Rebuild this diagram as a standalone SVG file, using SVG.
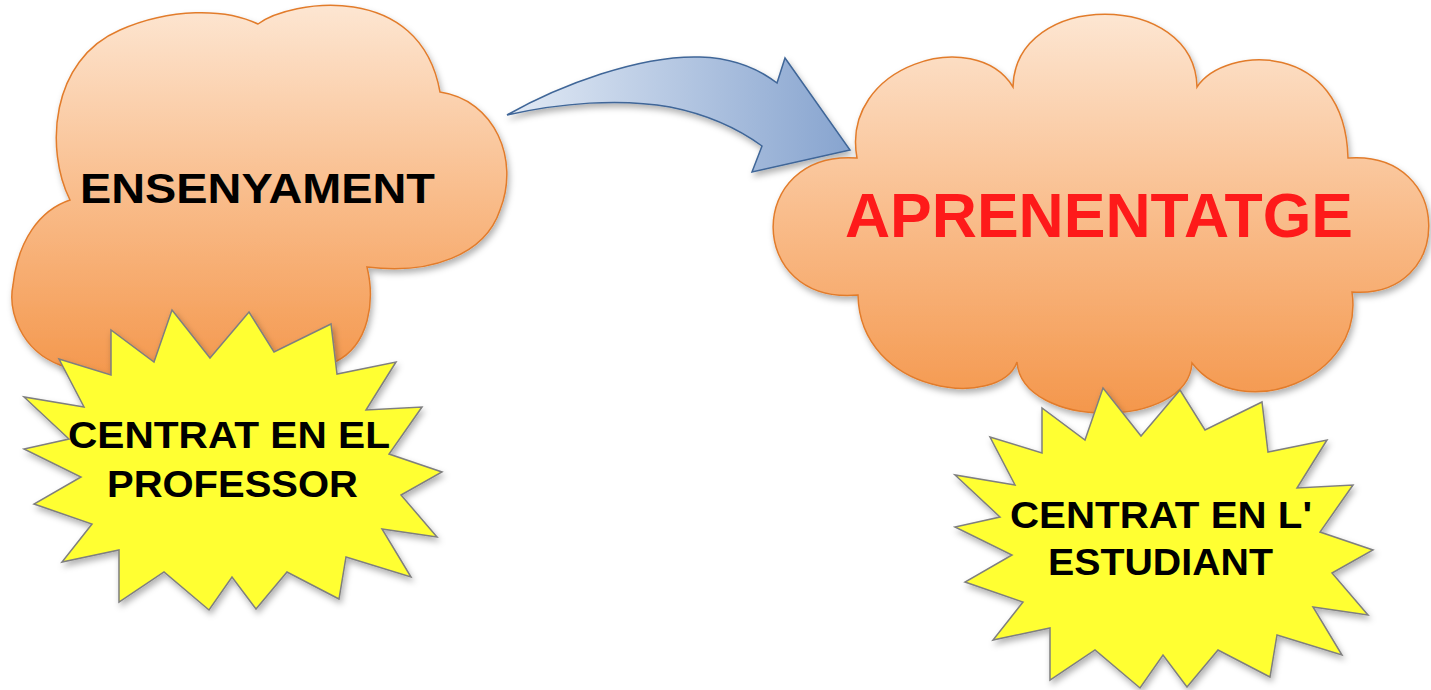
<svg xmlns="http://www.w3.org/2000/svg" xmlns:xlink="http://www.w3.org/1999/xlink" width="1431" height="690" viewBox="0 0 1431 690">
<style>
.cloud{stroke:#e27c2c;stroke-width:1.5;filter:url(#sh)}
.star{fill:#ffff33;stroke:#7f7f7f;stroke-width:1.5;filter:url(#sh)}
.t{font-family:"Liberation Sans",Arial,sans-serif;font-weight:bold;fill:#000}
.red{fill:#fe1a1a}
</style>
<defs>
<linearGradient id="cg" x1="0" y1="0" x2="0" y2="1">
<stop offset="0" stop-color="#fde6d2"/>
<stop offset="0.5" stop-color="#f9bd8c"/>
<stop offset="1" stop-color="#f4974c"/>
</linearGradient>
<linearGradient id="ag" x1="0" y1="0" x2="1" y2="0">
<stop offset="0" stop-color="#e2eaf5"/>
<stop offset="1" stop-color="#87a4cf"/>
</linearGradient>
<filter id="sh" x="-10%" y="-10%" width="125%" height="125%">
<feDropShadow dx="2" dy="4" stdDeviation="3" flood-color="#000" flood-opacity="0.3"/>
</filter>
<polygon id="starshape" points="172,310 210,358 249,312 274,352 331,324 337,374 396,362 366,410 422,407 389,454 442,472 401,495 437,537 382,529 411,577 346,557 339,599 287,572 256,609 232,577 209,610 164,572 119,602 119,550 62,562 92,524 34,504 81,477 24,449 69,439 24,397 84,407 59,359 111,375 111,330 154,362"/>
</defs>
<rect width="1431" height="690" fill="#fff"/>
<g id="connectors">
<path d="M507,115 C560,85 640,55 700,57 C735,58 760,70 777,83 L785,58 L850,150 L752,172 L762,146 C740,130 710,115 670,107 C620,98 560,103 507,115 Z" fill="url(#ag)" stroke="#3f6698" stroke-width="1.5" filter="url(#sh)"/>
</g>
<g id="ensenyament">
<path class="cloud" fill="url(#cg)" d="M70,200 C45,150 50,60 120,30 C170,8 225,8 258,24 C290,0 420,-20 440,92 C495,100 520,160 500,210 C485,255 430,275 367,267 C375,300 370,345 335,362 C290,385 110,385 60,365 C20,350 8,310 13,285 C18,240 40,210 70,200 Z"/>
<text class="t" x="80" y="203" font-size="42" textLength="355" lengthAdjust="spacingAndGlyphs">ENSENYAMENT</text>
</g>
<g id="centrat-professor">
<use xlink:href="#starshape" class="star"/>
<text class="t" x="68" y="448" font-size="36" textLength="322" lengthAdjust="spacingAndGlyphs">CENTRAT EN EL</text>
<text class="t" x="107" y="497" font-size="36" textLength="251" lengthAdjust="spacingAndGlyphs">PROFESSOR</text>
</g>
<g id="aprenentatge">
<path class="cloud" fill="url(#cg)" d="M857,158 C840,65 975,25 1013,87 C1015,-10 1195,-10 1197,87 C1225,45 1345,40 1348,158 C1455,150 1455,300 1352,292 C1365,380 1240,425 1192,363 C1188,430 1022,430 1017,362 C1000,410 860,395 858,295 C745,305 745,150 857,158 Z"/>
<text class="t red" x="845" y="237" font-size="63" textLength="508" lengthAdjust="spacingAndGlyphs">APRENENTATGE</text>
</g>
<g id="centrat-estudiant">
<use xlink:href="#starshape" class="star" transform="translate(931,78)"/>
<text class="t" x="1010" y="528" font-size="36" textLength="302" lengthAdjust="spacingAndGlyphs">CENTRAT EN L'</text>
<text class="t" x="1048" y="575" font-size="36" textLength="225" lengthAdjust="spacingAndGlyphs">ESTUDIANT</text>
</g>
</svg>
